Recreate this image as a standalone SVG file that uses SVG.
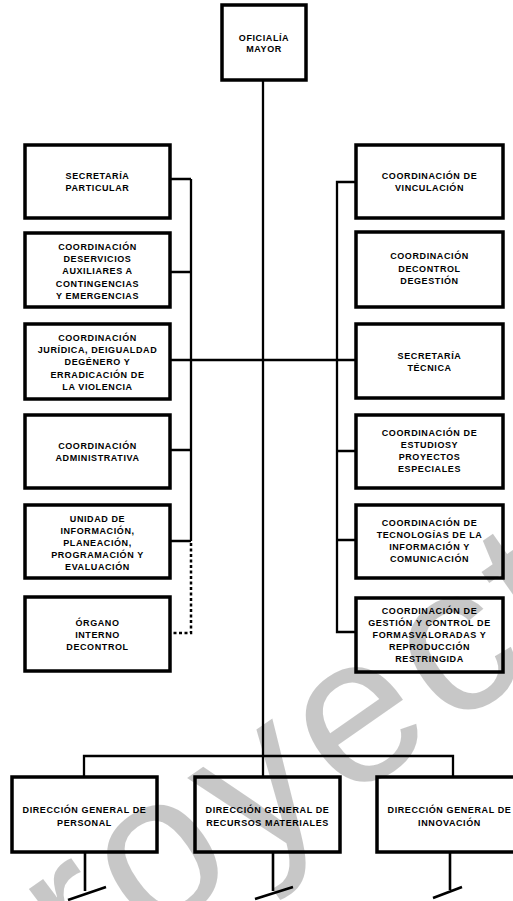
<svg xmlns="http://www.w3.org/2000/svg" width="513" height="901" viewBox="0 0 513 901">
  <style>
    .box { fill: #ffffff; stroke: #000000; stroke-width: 3.5; }
    .lbl { font-family: "Liberation Sans", Arial, sans-serif; font-size: 9px; font-weight: bold; letter-spacing: 0.6px; fill: #000000; text-anchor: middle; }
    .wire { fill: none; stroke: #000000; stroke-width: 2.3; }
    .dots { fill: none; stroke: #000000; stroke-width: 2.5; stroke-dasharray: 3 2.5; }
    .stub { fill: none; stroke: #000000; stroke-width: 2.6; }
    .mark { font-family: "Liberation Sans", Arial, sans-serif; font-size: 210px; fill: #000000; fill-opacity: 0.22; }
  </style>
  <rect width="513" height="901" fill="#ffffff"/>

  <!-- connectors -->
  <g id="connectors">
    <!-- trunk -->
    <path class="wire" d="M263 80 V777"/>
    <!-- left staff column -->
    <path class="wire" d="M191 179 V541"/>
    <path class="wire" d="M170 179 H191 M170 272 H191 M170 450 H191 M170 541 H191"/>
    <!-- shared cross line -->
    <path class="wire" d="M170 360 H356"/>
    <!-- right staff column -->
    <path class="wire" d="M356 182 H337 V632 H356"/>
    <path class="wire" d="M337 451 H356 M337 540 H356"/>
    <!-- dotted link to internal control -->
    <path class="dots" d="M191 543 V633 H170"/>
    <!-- bus to general directorates -->
    <path class="wire" d="M84 777 V756 H453 V777"/>
    <!-- stubs below directorates -->
    <path class="stub" d="M85 852 V891 M68 900 L106 887"/>
    <path class="stub" d="M273 852 V891 M255 899 L293 887"/>
    <path class="stub" d="M450 852 V890 M433 898 L462 887"/>
  </g>

  <g id="oficialia-mayor">
    <rect class="box" x="222" y="5" width="84" height="75"/>
    <text class="lbl"><tspan x="264" y="40.5">OFICIALÍA</tspan><tspan x="264" dy="11.5">MAYOR</tspan></text>
  </g>

  <!-- left column -->
  <g id="secretaria-particular">
    <rect class="box" x="25" y="145" width="145" height="73"/>
    <text class="lbl"><tspan x="97.5" y="178.7">SECRETARÍA</tspan><tspan x="97.5" dy="12">PARTICULAR</tspan></text>
  </g>
  <g id="servicios-auxiliares">
    <rect class="box" x="25" y="233" width="145" height="74"/>
    <text class="lbl"><tspan x="97.5" y="250">COORDINACIÓN</tspan><tspan x="97.5" dy="12.2">DESERVICIOS</tspan><tspan x="97.5" dy="12.2">AUXILIARES  A</tspan><tspan x="97.5" dy="12.2">CONTINGENCIAS</tspan><tspan x="97.5" dy="12.2">Y EMERGENCIAS</tspan></text>
  </g>
  <g id="juridica-igualdad">
    <rect class="box" x="25" y="324" width="145" height="75"/>
    <text class="lbl"><tspan x="97.5" y="341">COORDINACIÓN</tspan><tspan x="97.5" dy="12.2">JURÍDICA, DEIGUALDAD</tspan><tspan x="97.5" dy="12.2">DEGÉNERO Y</tspan><tspan x="97.5" dy="12.2">ERRADICACIÓN DE</tspan><tspan x="97.5" dy="12.2">LA VIOLENCIA</tspan></text>
  </g>
  <g id="administrativa">
    <rect class="box" x="25" y="415" width="145" height="73"/>
    <text class="lbl"><tspan x="97.5" y="448.5">COORDINACIÓN</tspan><tspan x="97.5" dy="12">ADMINISTRATIVA</tspan></text>
  </g>
  <g id="unidad-informacion">
    <rect class="box" x="25" y="505" width="145" height="73"/>
    <text class="lbl"><tspan x="97.5" y="521.5">UNIDAD DE</tspan><tspan x="97.5" dy="12.2">INFORMACIÓN,</tspan><tspan x="97.5" dy="12.2">PLANEACIÓN,</tspan><tspan x="97.5" dy="12.2">PROGRAMACIÓN Y</tspan><tspan x="97.5" dy="12.2">EVALUACIÓN</tspan></text>
  </g>
  <g id="organo-interno">
    <rect class="box" x="25" y="597" width="145" height="74"/>
    <text class="lbl"><tspan x="97.5" y="625.5">ÓRGANO</tspan><tspan x="97.5" dy="12.2">INTERNO</tspan><tspan x="97.5" dy="12.2">DECONTROL</tspan></text>
  </g>

  <!-- right column -->
  <g id="vinculacion">
    <rect class="box" x="356" y="145" width="147" height="73"/>
    <text class="lbl"><tspan x="429.5" y="179.3">COORDINACIÓN DE</tspan><tspan x="429.5" dy="11.7">VINCULACIÓN</tspan></text>
  </g>
  <g id="control-gestion">
    <rect class="box" x="356" y="232" width="147" height="75"/>
    <text class="lbl"><tspan x="429.5" y="259">COORDINACIÓN</tspan><tspan x="429.5" dy="12.5">DECONTROL</tspan><tspan x="429.5" dy="12.5">DEGESTIÓN</tspan></text>
  </g>
  <g id="secretaria-tecnica">
    <rect class="box" x="356" y="324" width="147" height="74"/>
    <text class="lbl"><tspan x="429.5" y="358.5">SECRETARÍA</tspan><tspan x="429.5" dy="12">TÉCNICA</tspan></text>
  </g>
  <g id="estudios-proyectos">
    <rect class="box" x="356" y="415" width="147" height="73"/>
    <text class="lbl"><tspan x="429.5" y="436">COORDINACIÓN DE</tspan><tspan x="429.5" dy="12">ESTUDIOSY</tspan><tspan x="429.5" dy="12">PROYECTOS</tspan><tspan x="429.5" dy="12">ESPECIALES</tspan></text>
  </g>
  <g id="tecnologias">
    <rect class="box" x="356" y="505" width="147" height="73"/>
    <text class="lbl"><tspan x="429.5" y="526">COORDINACIÓN DE</tspan><tspan x="429.5" dy="12">TECNOLOGÍAS DE LA</tspan><tspan x="429.5" dy="12">INFORMACIÓN Y</tspan><tspan x="429.5" dy="12">COMUNICACIÓN</tspan></text>
  </g>
  <g id="formas-valoradas">
    <rect class="box" x="356" y="598" width="147" height="74"/>
    <text class="lbl"><tspan x="429.5" y="614">COORDINACIÓN DE</tspan><tspan x="429.5" dy="12">GESTIÓN Y CONTROL DE</tspan><tspan x="429.5" dy="12">FORMASVALORADAS Y</tspan><tspan x="429.5" dy="12">REPRODUCCIÓN</tspan><tspan x="429.5" dy="12">RESTRINGIDA</tspan></text>
  </g>

  <!-- general directorates -->
  <g id="dg-personal">
    <rect class="box" x="12" y="777" width="145" height="75"/>
    <text class="lbl"><tspan x="84.5" y="813.3">DIRECCIÓN GENERAL DE</tspan><tspan x="84.5" dy="12.2">PERSONAL</tspan></text>
  </g>
  <g id="dg-recursos-materiales">
    <rect class="box" x="195" y="777" width="145" height="75"/>
    <text class="lbl"><tspan x="267.5" y="813.3">DIRECCIÓN GENERAL DE</tspan><tspan x="267.5" dy="12.2">RECURSOS MATERIALES</tspan></text>
  </g>
  <g id="dg-innovacion">
    <rect class="box" x="377" y="777" width="145" height="75"/>
    <text class="lbl"><tspan x="449.5" y="813.3">DIRECCIÓN GENERAL DE</tspan><tspan x="449.5" dy="12.2">INNOVACIÓN</tspan></text>
  </g>

  <!-- watermark -->
  <text class="mark" transform="translate(-42 1074) rotate(-35)" letter-spacing="10">Proyecto</text>
</svg>
